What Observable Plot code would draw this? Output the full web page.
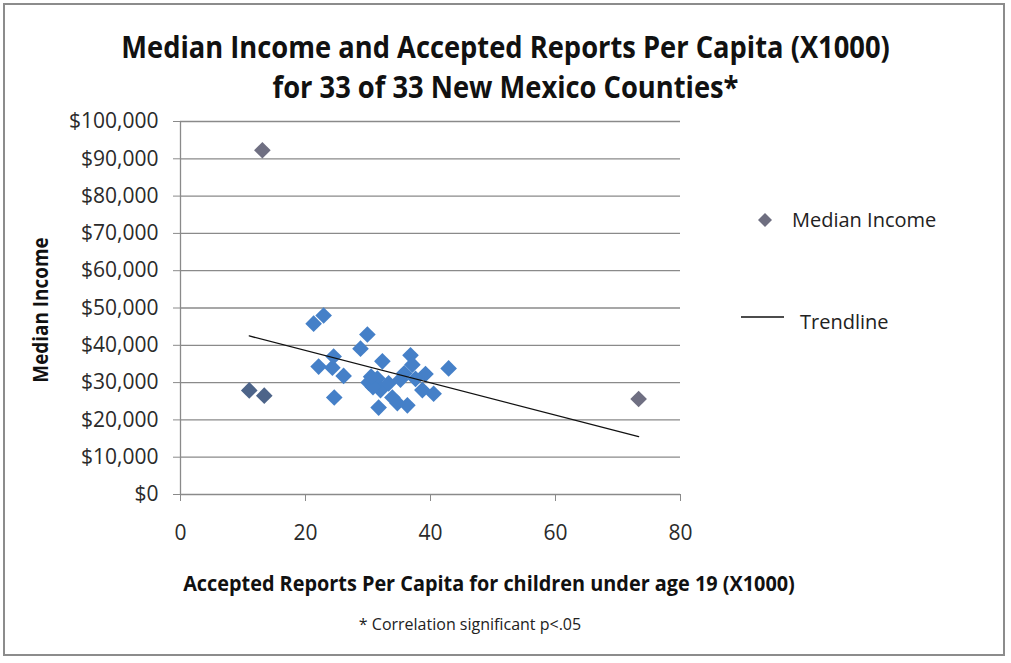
<!DOCTYPE html>
<html>
<head>
<meta charset="utf-8">
<script src="https://cdn.jsdelivr.net/npm/d3@7"></script>
<script src="https://cdn.jsdelivr.net/npm/@observablehq/plot@0.6"></script>
<style>
  html, body { margin: 0; padding: 0; background: #fff; }
  #wrap { position: relative; width: 1011px; height: 663px; overflow: hidden; background: #fff; }
  #border { position: absolute; left: 3px; top: 3px; width: 998px; height: 649px; border: 2px solid #8c8c8c; }
  .t { position: absolute; white-space: nowrap; color: #111; }
  .narrowb { font-family: "Open Sans", sans-serif; font-weight: bold; }
  .reg { font-family: "Open Sans", sans-serif; }
  #chart { position: absolute; left: 0; top: 0; }
</style>
</head>
<body>
<div id="wrap">
  <div id="border"></div>
  <div id="chart"></div>
  <div class="t narrowb" style="left:0;width:1011px;text-align:center;top:28px;font-size:30px;line-height:38px;transform:scaleX(0.91);transform-origin:506px 0;">Median Income and Accepted Reports Per Capita (X1000)</div>
  <div class="t narrowb" style="left:0;width:1011px;text-align:center;top:68px;font-size:30px;line-height:38px;transform:scaleX(0.91);transform-origin:506px 0;">for 33 of 33 New Mexico Counties*</div>
  <div class="t narrowb" style="left:0;width:978px;text-align:center;top:570px;font-size:21px;line-height:26px;transform:scaleX(0.945);transform-origin:489px 0;">Accepted Reports Per Capita for children under age 19 (X1000)</div>
  <div class="t narrowb" style="left:40px;top:310px;font-size:21px;line-height:26px;transform:translate(-50%,-50%) rotate(-90deg) scaleX(0.9);">Median Income</div>
  <div class="t reg" style="left:0;width:940px;text-align:center;top:613px;font-size:16px;line-height:22px;color:#222;">* Correlation significant p&lt;.05</div>
  <svg style="position:absolute;left:756px;top:211px" width="18" height="18"><path d="M9,2 L16,9 L9,16 L2,9 Z" fill="#6e6e80"/></svg>
  <div class="t reg" style="left:792px;top:206px;font-size:20px;line-height:28px;color:#222;">Median Income</div>
  <svg style="position:absolute;left:740px;top:310px" width="46" height="14"><line x1="1" y1="7" x2="44" y2="7" stroke="#111" stroke-width="1.3"/></svg>
  <div class="t reg" style="left:800px;top:308px;font-size:20px;line-height:28px;color:#222;">Trendline</div>
</div>
<script>
// Accepted reports per capita (X1000) for each county
const reportsPerCapita = [13.1, 73.3, 11.0, 13.4, 21.3, 22.9, 22.1, 24.3, 24.5, 26.1, 24.6,
  28.8, 29.9, 32.3, 30.1, 31.5, 31.7, 32.0, 33.3, 33.9, 34.7, 35.2, 36.3, 36.8, 37.1,
  39.2, 38.7, 40.5, 42.9, 30.8, 35.8, 37.6, 30.5];
// Median income for each county
const medianIncome = [92300, 25600, 27900, 26500, 45800, 48000, 34300, 34000, 37000, 31800, 26000,
  39100, 42900, 35700, 30000, 31100, 23300, 28000, 29800, 26000, 24500, 30800, 23900, 37300, 34800,
  32300, 28000, 27000, 33800, 28800, 32500, 31000, 31600];
// Marker tone group as seen in the picture
const pointGroup = ["gray", "gray", "dark", "dark", "blue", "blue", "blue", "blue", "blue", "blue", "blue",
  "blue", "blue", "blue", "blue", "blue", "blue", "blue", "blue", "blue", "blue", "blue", "blue", "blue", "blue",
  "blue", "blue", "blue", "blue", "blue", "blue", "blue", "blue"];
// Trendline endpoints
const trendX = [11.0, 73.3];
const trendY = [42500, 15500];
// Tick values
const yTicks = [0, 10000, 20000, 30000, 40000, 50000, 60000, 70000, 80000, 90000, 100000];
const xTicks = [0, 20, 40, 60, 80];

const groupColor = {gray: "#6f6f82", dark: "#4d6489", blue: "#4580c8"};
const points = reportsPerCapita.map((x, i) => ({x, y: medianIncome[i], g: pointGroup[i]}));
const trend = trendX.map((x, i) => ({x, y: trendY[i]}));

const chart = Plot.plot({
  width: 1011,
  height: 663,
  marginLeft: 180,
  marginRight: 331,
  marginTop: 121,
  marginBottom: 169,
  style: {fontFamily: "'Open Sans', sans-serif", fontSize: "21px", color: "#2a2a2a", background: "transparent"},
  x: {domain: [0, 80]},
  y: {domain: [0, 100000]},
  marks: [
    Plot.ruleY(yTicks, {stroke: "#8a8a8a", strokeWidth: 1.3}),
    Plot.ruleX([0], {stroke: "#8a8a8a", strokeWidth: 1.3}),
    Plot.axisY({ticks: yTicks, tickSize: 7, tickPadding: 15, tickFormat: d3.format("$,"), label: null, stroke: "#8a8a8a", fontSize: 21}),
    Plot.axisX({ticks: xTicks, tickSize: 7, tickPadding: 24, tickFormat: d3.format("d"), label: null, stroke: "#8a8a8a", fontSize: 21}),
    Plot.dot(points, {x: "x", y: "y", symbol: "diamond2", r: 7.5, fill: d => groupColor[d.g], stroke: null}),
    Plot.line(trend, {x: "x", y: "y", stroke: "#111", strokeWidth: 1.3})
  ]
});
document.getElementById("chart").appendChild(chart);
</script>
</body>
</html>
